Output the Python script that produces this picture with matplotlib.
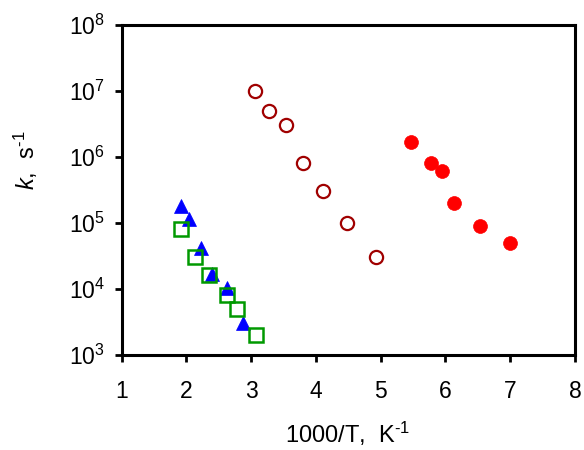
import matplotlib
matplotlib.use("Agg")
import matplotlib.pyplot as plt
from matplotlib.ticker import FixedLocator, NullLocator

plt.rcParams['font.family'] = ['Liberation Sans', 'DejaVu Sans']
plt.rcParams['mathtext.fontset'] = 'custom'
plt.rcParams['mathtext.rm'] = 'Liberation Sans'
plt.rcParams['mathtext.it'] = 'Liberation Sans:italic'
plt.rcParams['mathtext.default'] = 'regular'

# Rate constants k (s^-1) versus inverse temperature 1000/T (K^-1)
open_circle_x = [3.06, 3.28, 3.53, 3.80, 4.11, 4.48, 4.92]
open_circle_k = [1.0e7, 5.0e6, 3.0e6, 8.0e5, 3.0e5, 1.0e5, 3.0e4]

filled_circle_x = [5.46, 5.78, 5.95, 6.13, 6.53, 6.99]
filled_circle_k = [1.7e6, 8.0e5, 6.0e5, 2.0e5, 9.0e4, 5.0e4]

triangle_x = [1.91, 2.04, 2.23, 2.39, 2.63, 2.87]
triangle_k = [1.8e5, 1.15e5, 4.2e4, 1.7e4, 1.05e4, 3.1e3]

square_x = [1.91, 2.13, 2.35, 2.62, 2.78, 3.07]
square_k = [8.0e4, 3.0e4, 1.6e4, 8.1e3, 5.0e3, 2.0e3]

x_ticks = [1, 2, 3, 4, 5, 6, 7, 8]
y_exponents = [3, 4, 5, 6, 7, 8]

fig = plt.figure(figsize=(5.84, 4.50), dpi=100)
ax = fig.add_axes([0.2084, 0.2111, 0.7762, 0.7340])

ax.set_yscale('log')
ax.set_xlim(1, 8)
ax.set_ylim(1e3, 1e8)

ax.plot(open_circle_x, open_circle_k, linestyle='none', marker='o', ms=9.5,
        mfc='white', mec='#A00000', mew=1.6, zorder=3)
ax.plot(filled_circle_x, filled_circle_k, linestyle='none', marker='o', ms=10,
        mfc='#FF0000', mec='#FF0000', mew=0.5, zorder=3)
ax.plot(triangle_x, triangle_k, linestyle='none', marker='^', ms=9.5,
        mfc='#0000FF', mec='#0000FF', mew=0.5, zorder=3)
ax.plot(square_x, square_k, linestyle='none', marker='s', ms=10,
        mfc='none', mec='#009900', mew=1.8, zorder=4)

ax.xaxis.set_major_locator(FixedLocator(x_ticks))
ax.set_xticklabels([str(v) for v in x_ticks])
ax.yaxis.set_major_locator(FixedLocator([10.0 ** e for e in y_exponents]))
ax.yaxis.set_minor_locator(NullLocator())
ax.set_yticklabels([r'$10^{%d}$' % e for e in y_exponents])

for side in ax.spines.values():
    side.set_linewidth(2.2)
    side.set_color('black')

ax.tick_params(axis='both', direction='out', length=5, width=2.0,
               labelsize=16.5, colors='black')
ax.tick_params(axis='x', pad=13)
ax.tick_params(axis='y', pad=7)

fig.text(26 / 584, 1 - 160 / 450, r'$\it{k}$,  s$^{\text{-}1}$', rotation=90,
         ha='center', va='center', fontsize=17)
fig.text(348 / 584, 1 - 434 / 450, r'1000/T,  K$^{\text{-}1}$',
         ha='center', va='center', fontsize=17)

fig.savefig('out.png', dpi=100)
